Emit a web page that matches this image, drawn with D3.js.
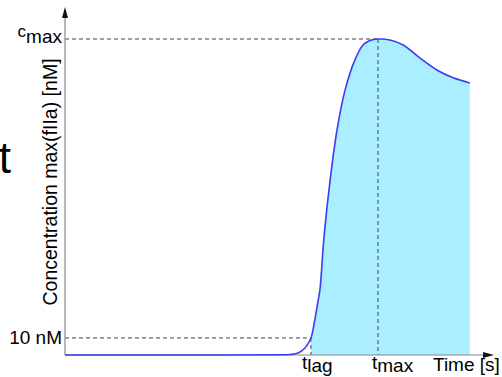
<!DOCTYPE html>
<html>
<head>
<meta charset="utf-8">
<script src="https://cdn.jsdelivr.net/npm/d3@7"></script>
<style>
  html, body { margin: 0; padding: 0; background: #fff; }
  svg { display: block; font-family: "Liberation Sans", Arial, sans-serif; }
</style>
</head>
<body>
<svg id="chart" width="502" height="377"></svg>
<script>
// ---- data (arbitrary units: time 0..100, concentration 0..100 = c_max) ----
const time = [0, 31.6, 50.4, 52.7, 54.6, 56.2, 57.6, 58.5, 59.3, 59.7, 60.7, 62.1, 63.7, 65.6, 67.9, 69.8, 71.4, 73.3, 76.1, 79.2, 83.1, 87.1, 90.9, 94.8];
const conc = [0, 0, 0.06, 0.15, 0.6, 2.2, 5.4, 11.1, 17.4, 20.6, 38.0, 55.4, 71.2, 83.9, 93.4, 98.1, 99.5, 100, 99.7, 98.1, 94.0, 90.2, 87.7, 86.1];
const tLag = 57.6, tMax = 73.3;
const cMax = 100, c10 = 5.4;
const yTickLabels = ["10 nM"];
const xLabels = { lag: "lag", max: "max" };
const yAxisTitle = "Concentration max(fIIa) [nM]";
const xAxisTitle = "Time [s]";

const data = time.map((t, i) => ({ t, c: conc[i] }));

const svg = d3.select("#chart");
const x = d3.scaleLinear().domain([0, 100]).range([65, 492]);
const y = d3.scaleLinear().domain([0, 100]).range([355, 39]);
const curve = d3.curveCatmullRom.alpha(0.5);

// stray large letter at left edge
svg.append("text").attr("x", 11).attr("y", 173).attr("text-anchor", "end")
  .attr("font-size", 44).attr("fill", "#000").text("t");

// fill area from t_lag onward
const fillData = data.filter(d => d.t >= tLag);
svg.append("path").datum(fillData)
  .attr("fill", "#aaeeff")
  .attr("d", d3.area().x(d => x(d.t)).y0(y(0)).y1(d => y(d.c)).curve(curve));

// dashed guides
const dash = "4,3";
svg.append("line").attr("x1", x(0)).attr("x2", x(tMax)).attr("y1", y(cMax)).attr("y2", y(cMax))
  .attr("stroke", "#444").attr("stroke-dasharray", dash);
svg.append("line").attr("x1", x(tMax)).attr("x2", x(tMax)).attr("y1", y(cMax)).attr("y2", y(0))
  .attr("stroke", "#444").attr("stroke-dasharray", dash);
svg.append("line").attr("x1", x(0)).attr("x2", x(tLag)).attr("y1", y(c10)).attr("y2", y(c10))
  .attr("stroke", "#444").attr("stroke-dasharray", dash);
svg.append("line").attr("x1", x(tLag)).attr("x2", x(tLag)).attr("y1", y(c10)).attr("y2", y(0))
  .attr("stroke", "#444").attr("stroke-dasharray", dash);

// axes
svg.append("line").attr("x1", x(0)).attr("x2", x(0)).attr("y1", y(0)).attr("y2", 12)
  .attr("stroke", "#888").attr("stroke-width", 1.2);
svg.append("line").attr("x1", x(0)).attr("x2", 488).attr("y1", y(0)).attr("y2", y(0))
  .attr("stroke", "#888").attr("stroke-width", 1.2);
svg.append("path").attr("d", `M${x(0)},7 L${x(0) - 3},18 L${x(0) + 3},18 Z`).attr("fill", "#111");
svg.append("path").attr("d", `M494,${y(0)} L483,${y(0) - 3} L483,${y(0) + 3} Z`).attr("fill", "#111");

// curve
svg.append("path").datum(data)
  .attr("fill", "none").attr("stroke", "#3c3cf5").attr("stroke-width", 1.6)
  .attr("d", d3.line().x(d => x(d.t)).y(d => y(d.c)).curve(curve));

// labels
const cm = svg.append("text").attr("x", 62).attr("y", 37).attr("text-anchor", "end").attr("fill", "#000");
cm.append("tspan").attr("font-size", 17).text("c");
cm.append("tspan").attr("font-size", 19).attr("dy", 6).text("max");

svg.append("text").attr("x", 62).attr("y", 344).attr("text-anchor", "end")
  .attr("font-size", 19).attr("fill", "#000").text(yTickLabels[0]);

const tl = svg.append("text").attr("x", x(tLag) - 9).attr("y", 369).attr("fill", "#000");
tl.append("tspan").attr("font-size", 19).text("t");
tl.append("tspan").attr("font-size", 19).attr("dy", 3).text(xLabels.lag);

const tm = svg.append("text").attr("x", x(tMax) - 6).attr("y", 369).attr("fill", "#000");
tm.append("tspan").attr("font-size", 19).text("t");
tm.append("tspan").attr("font-size", 19).attr("dy", 3).text(xLabels.max);

svg.append("text").attr("x", 433).attr("y", 371).attr("font-size", 19).attr("fill", "#000").text(xAxisTitle);

svg.append("text").attr("transform", "translate(57,182) rotate(-90)")
  .attr("text-anchor", "middle").attr("font-size", 19.5).attr("fill", "#000").text(yAxisTitle);
</script>
</body>
</html>
